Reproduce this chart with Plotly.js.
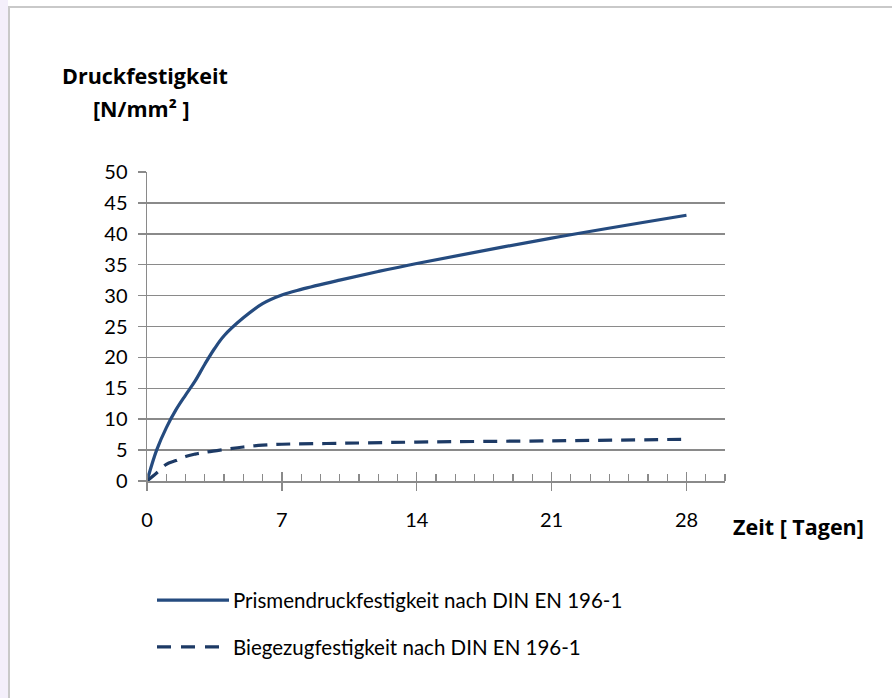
<!DOCTYPE html>
<html>
<head>
<meta charset="utf-8">
<script src="https://cdn.plot.ly/plotly-3.0.1.min.js"></script>
<style>
  html, body { margin: 0; padding: 0; background: #ffffff; }
  #strip { position: absolute; left: 0; top: 0; width: 8px; height: 698px; background: #f4effb; }
  #frame { position: absolute; left: 8px; top: 6px; width: 884px; height: 692px;
           border-left: 2px solid #c9c9c9; border-top: 2px solid #c9c9c9; box-sizing: border-box; }
  #chart { position: absolute; left: 0; top: 0; width: 892px; height: 698px; }
</style>
</head>
<body>
<div id="strip"></div>
<div id="frame"></div>
<div id="chart"></div>
<script>
// ---- data ----
const daysDruck = [0, 0.5, 1, 1.5, 2, 2.5, 3, 3.5, 4, 5, 6, 7, 8, 10, 12, 14, 21, 28];
const druckfestigkeit = [0, 5.0, 8.6, 11.5, 13.9, 16.2, 18.9, 21.4, 23.5, 26.4, 28.7, 30.1, 31.0, 32.5, 33.9, 35.2, 39.3, 43.0];
const daysBiege = [0, 0.5, 1, 1.5, 2, 2.5, 3, 4, 5, 6, 7, 10, 14, 21, 28];
const biegezugfestigkeit = [0, 1.3, 2.7, 3.3, 3.95, 4.35, 4.65, 5.1, 5.5, 5.8, 5.95, 6.1, 6.3, 6.5, 6.75];
const seriesNames = ["Prismendruckfestigkeit nach DIN EN 196-1", "Biegezugfestigkeit nach DIN EN 196-1"];
const xTickVals = [0, 7, 14, 21, 28];
const yTickVals = [0, 5, 10, 15, 20, 25, 30, 35, 40, 45, 50];

// ---- layout geometry (pixels) ----
const W = 892, H = 698;
const L = 147, R = 725, T = 171.5, B = 481.5;
const pw = R - L, ph = B - T;
const px = x => (x - L) / pw;
const py = y => (B - y) / ph;

const FONT = "Lato, 'Noto Sans', sans-serif";
const TFONT = "'Open Sans', Lato, sans-serif";
const solidColor = "#254b7f";
const dashColor = "#1d3a65";
const gridColor = "#8a8a8a";

const traces = [
  { x: daysDruck, y: druckfestigkeit, name: seriesNames[0], type: "scatter", mode: "lines",
    line: { color: solidColor, width: 3.2, shape: "spline", smoothing: 1 }, showlegend: false },
  { x: daysBiege, y: biegezugfestigkeit, name: seriesNames[1], type: "scatter", mode: "lines",
    line: { color: dashColor, width: 3.2, shape: "spline", smoothing: 1, dash: "14px,9px" }, showlegend: false },
  // invisible trace to drive the overlay axis (crossing major ticks)
  { x: [0], y: [0], xaxis: "x2", mode: "markers", marker: { opacity: 0 }, hoverinfo: "skip", showlegend: false }
];

const legendY1 = 601, legendY2 = 648;
const layout = {
  width: W, height: H,
  paper_bgcolor: "rgba(0,0,0,0)",
  plot_bgcolor: "rgba(0,0,0,0)",
  margin: { l: L, r: W - R, t: T, b: H - B, pad: 0 },
  font: { family: FONT, size: 19, color: "#000000" },
  xaxis: {
    range: [0, 30], tickvals: xTickVals, ticktext: xTickVals.map(String),
    showgrid: false, zeroline: false,
    showline: true, linecolor: gridColor, linewidth: 1.5,
    ticks: "outside", ticklen: 8, tickwidth: 1.5, tickcolor: gridColor,
    ticklabelstandoff: 12,
    tickfont: { family: FONT, size: 20, color: "#000" },
    minor: { dtick: 1, tick0: 0, ticks: "inside", ticklen: 7, tickwidth: 1.2, tickcolor: gridColor, showgrid: false }
  },
  xaxis2: {
    overlaying: "x", matches: "x", anchor: "y", range: [0, 30],
    tickvals: xTickVals, showticklabels: false, showgrid: false, zeroline: false, showline: false,
    ticks: "inside", ticklen: 9, tickwidth: 1.5, tickcolor: gridColor
  },
  yaxis: {
    range: [0, 50], tickvals: yTickVals, ticktext: yTickVals.map(String),
    showgrid: true, gridcolor: gridColor, gridwidth: 1.5, zeroline: false,
    showline: true, linecolor: gridColor, linewidth: 1.5,
    ticks: "outside", ticklen: 8, tickwidth: 1.5, tickcolor: gridColor,
    ticklabelstandoff: 6,
    tickfont: { family: FONT, size: 20, color: "#000" }
  },
  shapes: [
    { type: "line", xref: "paper", yref: "paper", x0: px(157), x1: px(229), y0: py(legendY1), y1: py(legendY1),
      line: { color: solidColor, width: 3.2 } },
    { type: "line", xref: "paper", yref: "paper", x0: px(157), x1: px(229), y0: py(legendY2), y1: py(legendY2),
      line: { color: dashColor, width: 3.2, dash: "14px,10px" } }
  ],
  annotations: [
    { text: "<b>Druckfestigkeit</b>", xref: "paper", yref: "paper", x: px(60), y: py(75),
      xanchor: "left", yanchor: "middle", showarrow: false, font: { family: TFONT, size: 21.5 } },
    { text: "<b>[N/mm² ]</b>", xref: "paper", yref: "paper", x: px(91), y: py(108),
      xanchor: "left", yanchor: "middle", showarrow: false, font: { family: TFONT, size: 21.5 } },
    { text: "<b>Zeit [ Tagen]</b>", xref: "paper", yref: "paper", x: px(731), y: py(527),
      xanchor: "left", yanchor: "middle", showarrow: false, font: { family: TFONT, size: 21.5 } },
    { text: seriesNames[0], xref: "paper", yref: "paper", x: px(231), y: py(legendY1),
      xanchor: "left", yanchor: "middle", showarrow: false, font: { family: FONT, size: 20.5 } },
    { text: seriesNames[1], xref: "paper", yref: "paper", x: px(231), y: py(legendY2),
      xanchor: "left", yanchor: "middle", showarrow: false, font: { family: FONT, size: 20.5 } }
  ]
};

Plotly.newPlot("chart", traces, layout, { staticPlot: true, displayModeBar: false });
</script>
</body>
</html>
